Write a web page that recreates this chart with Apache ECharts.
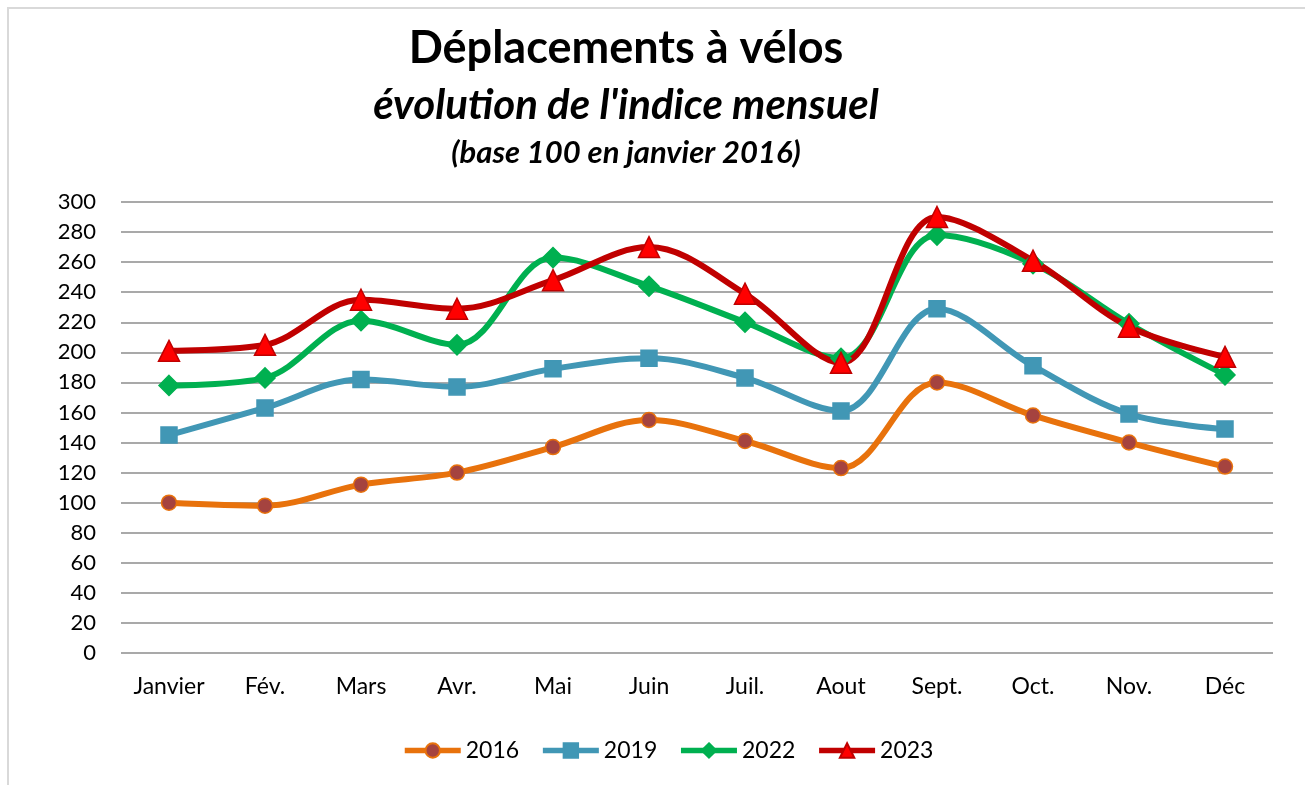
<!DOCTYPE html>
<html>
<head>
<meta charset="utf-8">
<script src="https://cdn.jsdelivr.net/npm/echarts@6/dist/echarts.min.js"></script>
<style>
html,body{margin:0;padding:0;background:#fff;}
#chart{width:1305px;height:785px;}
</style>
</head>
<body>
<div id="chart"></div>
<script>
const months = ['Janvier','Fév.','Mars','Avr.','Mai','Juin','Juil.','Aout','Sept.','Oct.','Nov.','Déc'];
const s2016 = [100, 98, 112, 120, 137, 155, 141, 123, 180, 158, 140, 124];
const s2019 = [145, 163, 182, 177, 189, 196, 183, 161, 229, 191, 159, 149];
const s2022 = [178, 183, 221, 205, 263, 244, 220, 196, 278, 259, 219, 185];
const s2023 = [201, 205, 235, 229, 248, 270, 239, 193, 290, 261, 217, 197];
const yTicks = {min: 0, max: 300, interval: 20};

const FONT = 'Lato, "Open Sans", sans-serif';
const chart = echarts.init(document.getElementById('chart'));

function mkSeries(name, data, lineColor, symbol, fill, border, size){
  return {
    name: name, type: 'line', data: data, smooth: 0.35,
    symbol: symbol, symbolSize: size,
    lineStyle: {color: lineColor, width: 6},
    itemStyle: {color: fill, borderColor: border, borderWidth: 1.5},
    emphasis: {disabled: true}
  };
}

chart.setOption({
  animation: false,
  backgroundColor: '#fff',
  title: [
    {text: 'Déplacements à vélos', left: 621, top: 21, textAlign: 'center',
     textStyle: {fontFamily: FONT, fontSize: 45, fontWeight: 'bold', color: '#000'}},
    {text: "évolution de l'indice mensuel", left: 621, top: 79, textAlign: 'center',
     textStyle: {fontFamily: FONT, fontSize: 42, fontWeight: 'bold', fontStyle: 'italic', color: '#000'}},
    {text: '(base 100 en janvier 2016)', left: 621, top: 132, textAlign: 'center',
     textStyle: {fontFamily: FONT, fontSize: 31, fontWeight: 'bold', fontStyle: 'italic', color: '#000'}}
  ],
  graphic: [
    {type: 'polyline', shape: {points: [[8, 785], [8, 8], [1305, 8]]},
     style: {stroke: '#d9d9d9', lineWidth: 2, fill: null}, silent: true}
  ],
  legend: {
    bottom: 18, left: 397, itemWidth: 56, itemHeight: 18, itemGap: 21,
    lineStyle: {width: 5.5},
    textStyle: {fontFamily: FONT, fontSize: 23, color: '#000'},
    data: ['2016','2019','2022','2023']
  },
  grid: {left: 121, right: 32, top: 202, bottom: 132},
  xAxis: {
    type: 'category', data: months, boundaryGap: true,
    axisLine: {show: false}, axisTick: {show: false},
    axisLabel: {fontFamily: FONT, fontSize: 23, color: '#000', margin: 22}
  },
  yAxis: {
    type: 'value', min: yTicks.min, max: yTicks.max, interval: yTicks.interval,
    axisLine: {show: false}, axisTick: {show: false},
    axisLabel: {fontFamily: FONT, fontSize: 22, color: '#000', margin: 25},
    splitLine: {lineStyle: {color: '#8c8c8c', width: 1.5}}
  },
  series: [
    mkSeries('2016', s2016, '#E8720C', 'circle', '#A5433F', '#E8720C', 15),
    mkSeries('2019', s2019, '#4197B5', 'rect', '#4197B5', '#4197B5', 16),
    mkSeries('2022', s2022, '#00B050', 'diamond', '#00B050', '#00B050', 20),
    mkSeries('2023', s2023, '#C00000', 'triangle', '#FF0000', '#C00000', 21)
  ]
});
</script>
</body>
</html>
